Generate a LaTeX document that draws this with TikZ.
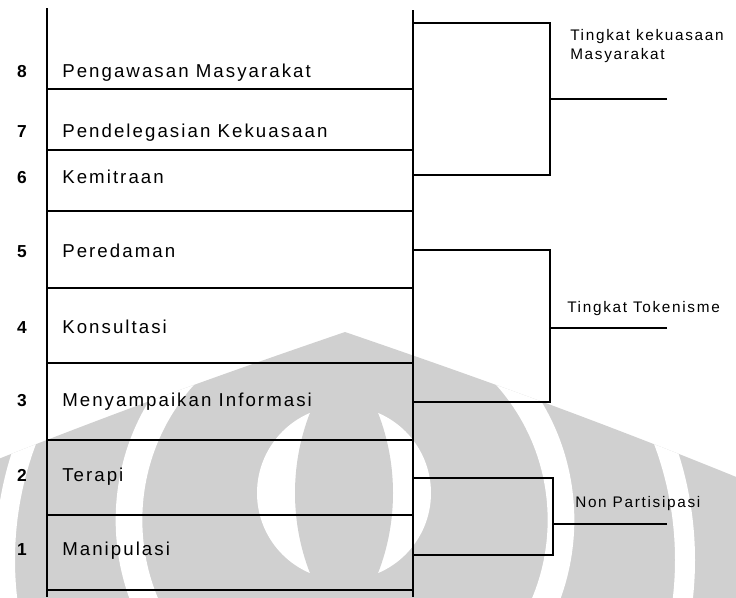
\documentclass[tikz,border=0pt]{standalone}
\usepackage{fontspec}
\setmainfont{Liberation Sans}[LetterSpace=11]
\definecolor{wmgray}{RGB}{208,208,208}

\begin{document}
\begin{tikzpicture}[x=0.75pt, y=-0.75pt,
    rung/.style={line width=1.6pt},
    pole/.style={line width=2pt},
    bracket/.style={line width=1.3pt},
    numtext/.style={anchor=base, font=\fontsize{13}{15}\selectfont\bfseries, inner sep=0pt},
    rungtext/.style={anchor=base west, font=\fontsize{14}{16}\selectfont, inner sep=0pt},
    grouptext/.style={anchor=base west, font=\fontsize{11.5}{14}\selectfont, inner sep=0pt, align=left}]
    \useasboundingbox (0,0) rectangle (736,597);

    % Watermark in the background
    \begin{scope}
        \clip (345,332) .. controls (450,368) and (600,420) .. (780,495) -- (780,620) -- (-90,620) -- (-90,495) .. controls (90,420) and (240,368) .. (345,332);
        \fill[wmgray] (-90,300) rectangle (780,620);
        \fill[white, even odd rule] (345,520) circle[radius=172pt] (345,520) circle[radius=152pt];
        \fill[white, even odd rule] (345,560) circle[radius=262.5pt] (345,560) circle[radius=247.5pt];
        \fill[white] (344,493) circle[radius=65.25pt];
        \clip (172,493) circle[radius=165.75pt];
        \fill[wmgray] (516,493) circle[radius=165.75pt];
    \end{scope}

    % First, locate the numbers and the rungs and name them
        \node[numtext] (eight) at (22,77) {8};
        \node[numtext] (seven) at (22,137) {7};
        \node[numtext] (six) at (22,183) {6};
        \node[numtext] (five) at (22,257) {5};
        \node[numtext] (four) at (22,333) {4};
        \node[numtext] (three) at (22,406) {3};
        \node[numtext] (two) at (22,481) {2};
        \node[numtext] (one) at (22,555) {1};

        \node[rungtext] (pengawasan) at (62,77) {Pengawasan Masyarakat};
        \node[rungtext] (delegasi) at (62,137) {Pendelegasian Kekuasaan};
        \node[rungtext] (kemitraan) at (62,183) {Kemitraan};
        \node[rungtext] (peredaman) at (62,257) {Peredaman};
        \node[rungtext] (konsultasi) at (62,333) {Konsultasi};
        \node[rungtext] (informasi) at (62,406) {Menyampaikan Informasi};
        \node[rungtext] (terapi) at (62,481) {Terapi};
        \node[rungtext] (manipulasi) at (62,555) {Manipulasi};

    % The group labels on the right
        \node[grouptext] (kuasa) at (570,59) {Tingkat kekuasaan\\Masyarakat};
        \node[grouptext] (token) at (567,312) {Tingkat Tokenisme};
        \node[grouptext] (nonpart) at (575,507) {Non Partisipasi};

    % Now draw the ladder:
        \draw[pole] (47,8) -- (47,597);
        \draw[pole] (413,10) -- (413,597);
        \draw[rung] (47,89) -- (413,89);
        \draw[rung] (47,150) -- (413,150);
        \draw[rung] (47,211) -- (413,211);
        \draw[rung] (47,288) -- (413,288);
        \draw[rung] (47,363) -- (413,363);
        \draw[rung] (47,440) -- (413,440);
        \draw[rung] (47,515) -- (413,515);
        \draw[rung] (47,590) -- (413,590);

    % And the brackets with their lines out
        \coordinate (kuasaA) at (413,23);
        \coordinate (kuasaC) at (550,23);
        \coordinate (kuasaB) at (413,175);
        \coordinate (kuasaEnd) at (667,99);
        \coordinate (tokenA) at (413,250);
        \coordinate (tokenC) at (550,250);
        \coordinate (tokenB) at (413,402);
        \coordinate (tokenEnd) at (667,328);
        \coordinate (nonA) at (413,478);
        \coordinate (nonC) at (553,478);
        \coordinate (nonB) at (413,555);
        \coordinate (nonEnd) at (667,524);

        \draw[bracket] (kuasaA) -- (kuasaC) |- (kuasaB);
        \draw[bracket] (tokenA) -- (tokenC) |- (tokenB);
        \draw[bracket] (nonA) -- (nonC) |- (nonB);
        \draw[bracket] (kuasaEnd) -- (kuasaEnd -| kuasaC);
        \draw[bracket] (tokenEnd) -- (tokenEnd -| tokenC);
        \draw[bracket] (nonEnd) -- (nonEnd -| nonC);
\end{tikzpicture}
\end{document}
